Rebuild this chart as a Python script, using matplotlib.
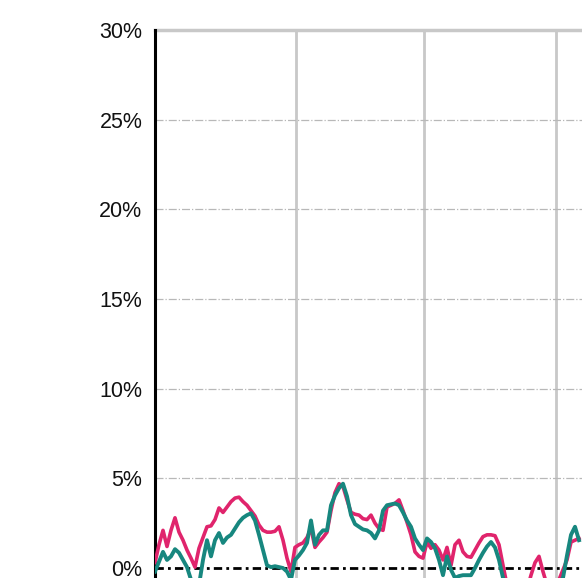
import numpy as np
import matplotlib
matplotlib.use('Agg')
import matplotlib.pyplot as plt
from matplotlib.ticker import FuncFormatter

plt.rcParams['font.family'] = ['Liberation Sans', 'DejaVu Sans']

# values in %, one point per period
pink = [0.3, 1.3, 2.1, 1.2, 2.1, 2.8, 2.0, 1.55, 1.0, 0.55,
        0.05, 1.1, 1.7, 2.3, 2.35, 2.7, 3.35, 3.1, 3.4, 3.7,
        3.9, 3.95, 3.7, 3.5, 3.2, 2.9, 2.4, 2.1, 2.0, 2.0,
        2.05, 2.3, 1.55, 0.55, -0.2, 1.15, 1.3, 1.4, 1.7, 2.2,
        1.15, 1.45, 1.7, 2.0, 3.2, 4.2, 4.7, 4.55, 3.8, 3.1,
        3.0, 2.95, 2.75, 2.7, 2.95, 2.5, 2.2, 2.1, 3.4, 3.5,
        3.6, 3.8, 3.2, 2.55, 1.85, 0.9, 0.65, 0.55, 1.45, 1.1,
        1.3, 1.0, 0.45, 1.15, 0.15, 1.3, 1.55, 0.9, 0.65, 0.6,
        1.0, 1.4, 1.75, 1.85, 1.85, 1.8, 1.3, 0.15, -0.95, -1.5,
        -1.9, -2.0, -1.8, -1.2, -0.4, 0.3, 0.65, -0.2, -0.95, -1.2,
        -1.1, -0.65, -0.1, 0.45, 1.45, 1.55, 1.65]
teal = [-0.2, 0.35, 0.9, 0.45, 0.65, 1.05, 0.85, 0.45, 0.05, -0.65,
        -1.2, -0.95, 0.45, 1.55, 0.65, 1.55, 1.95, 1.4, 1.7, 1.85,
        2.2, 2.55, 2.8, 2.95, 3.05, 2.65, 1.85, 1.0, 0.15, 0.05,
        0.1, 0.05, 0.0, -0.2, -0.65, 0.45, 0.7, 1.0, 1.4, 2.65,
        1.3, 1.85, 2.1, 2.1, 3.5, 4.05, 4.45, 4.7, 4.0, 2.95,
        2.45, 2.3, 2.15, 2.1, 1.95, 1.65, 2.1, 3.2, 3.5, 3.55,
        3.6, 3.5, 3.1, 2.65, 2.3, 1.65, 1.3, 1.0, 1.65, 1.45,
        1.1, 0.45, -0.4, 0.65, -0.1, -0.55, -0.45, -0.4, -0.4, -0.4,
        0.0, 0.45, 0.85, 1.2, 1.45, 1.15, 0.45, -0.55, -1.2, -1.8,
        -2.2, -2.5, -2.6, -2.5, -2.3, -2.2, -2.0, -1.8, -1.6, -1.3,
        -1.0, -0.8, -0.55, 0.7, 1.85, 2.3, 1.55]
period_marks = [35.25, 67.25, 100.25]
y_ticks = [0, 5, 10, 15, 20, 25, 30]

x = np.arange(len(pink))

fig = plt.figure(figsize=(5.82, 5.78), dpi=100)
W, H = 582.0, 578.0
ax = fig.add_axes([155 / W, 0, 1 - 155 / W, (578 - 30) / H])

for xm in period_marks:
    ax.axvline(xm, color='#c8c8c8', lw=2, zorder=1)
for yt in y_ticks[1:-1]:
    ax.axhline(yt, color='#b8b8b8', lw=0.9, ls='-.', zorder=1)
ax.axhline(30, color='#c8c8c8', lw=2.5, zorder=1, clip_on=False)
ax.axhline(0, color='black', lw=2, ls=(0, (3, 1.5, 1, 1.5)), zorder=2)

ax.plot(x, pink, color='#e0246c', lw=2.6, zorder=3)
ax.plot(x, teal, color='#17877f', lw=2.8, zorder=4)

ax.set_xlim(0, 106.75)
ax.set_ylim(-0.557, 30)
ax.set_yticks(y_ticks)
ax.yaxis.set_major_formatter(FuncFormatter(lambda v, p: '%d%%' % v))
ax.set_xticks([])
ax.tick_params(axis='y', length=0, pad=9, labelsize=15.5, labelcolor='#111111')
for s in ['top', 'right', 'bottom']:
    ax.spines[s].set_visible(False)
ax.spines['left'].set_linewidth(2.2)
ax.spines['left'].set_color('black')

fig.savefig('out.png', dpi=100)
